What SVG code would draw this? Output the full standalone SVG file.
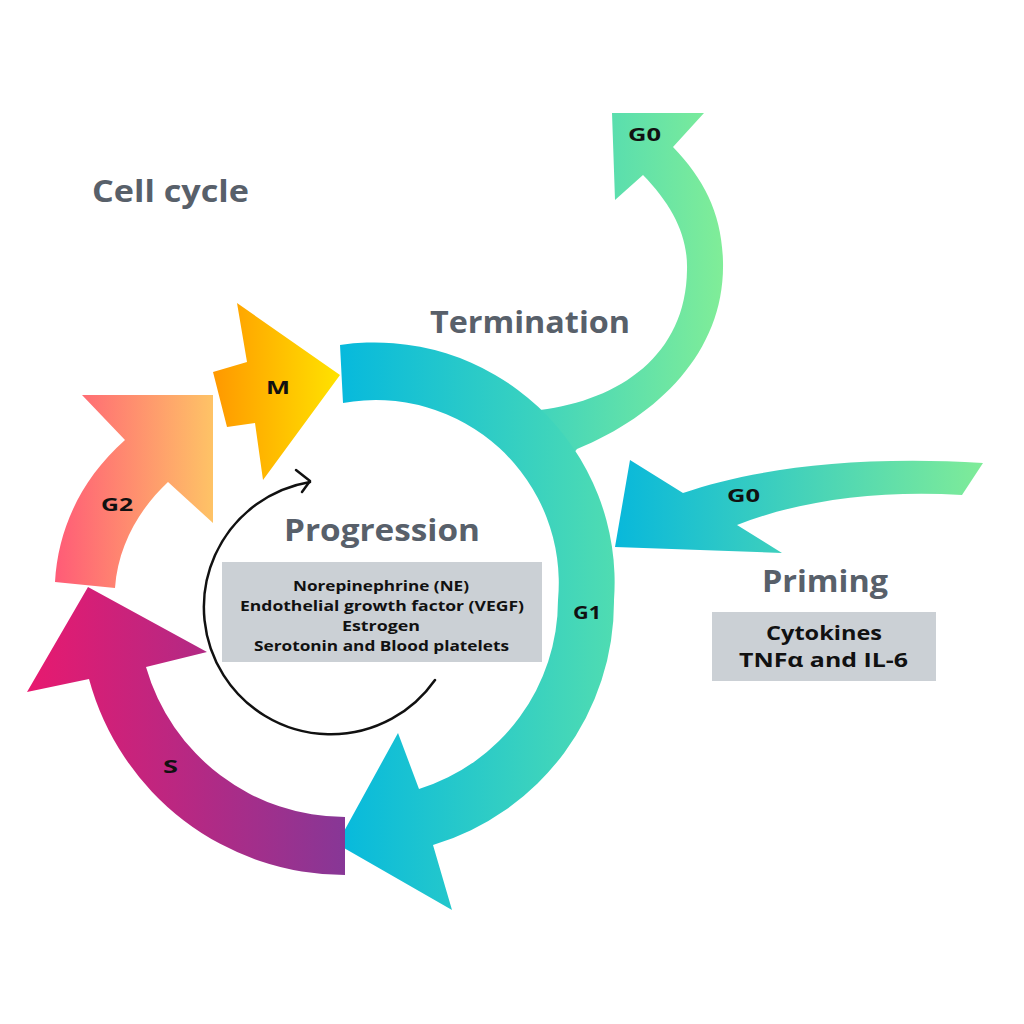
<svg xmlns="http://www.w3.org/2000/svg" width="1024" height="1024" viewBox="0 0 1024 1024">
<defs>
<linearGradient id="gG1" gradientUnits="userSpaceOnUse" x1="338" y1="0" x2="613" y2="0"><stop offset="0" stop-color="#06B9DD"/><stop offset="1" stop-color="#4FDCB2"/></linearGradient>
<linearGradient id="gG0t" gradientUnits="userSpaceOnUse" x1="530" y1="0" x2="723" y2="0"><stop offset="0" stop-color="#3DD3BE"/><stop offset="1" stop-color="#80ED98"/></linearGradient>
<linearGradient id="gG0r" gradientUnits="userSpaceOnUse" x1="615" y1="0" x2="985" y2="0"><stop offset="0" stop-color="#08B8DB"/><stop offset="1" stop-color="#80EC98"/></linearGradient>
<linearGradient id="gM" gradientUnits="userSpaceOnUse" x1="213" y1="0" x2="340" y2="0"><stop offset="0" stop-color="#FF9800"/><stop offset="1" stop-color="#FFE300"/></linearGradient>
<linearGradient id="gG2" gradientUnits="userSpaceOnUse" x1="55" y1="0" x2="213" y2="0"><stop offset="0" stop-color="#FF5B77"/><stop offset="1" stop-color="#FEC366"/></linearGradient>
<linearGradient id="gS" gradientUnits="userSpaceOnUse" x1="27" y1="0" x2="345" y2="0"><stop offset="0" stop-color="#E8196F"/><stop offset="1" stop-color="#873796"/></linearGradient>
<style>
.title{font-family:"Open Sans","Noto Sans","Liberation Sans",sans-serif;font-weight:700;fill:#58606A;font-size:31px;}
.lbl{font-family:"Open Sans","Noto Sans","Liberation Sans",sans-serif;font-weight:700;fill:#111;text-anchor:middle;}
.box{fill:#CBD0D5;}
.thin{fill:none;stroke:#111;stroke-width:2.5;stroke-linecap:round;stroke-linejoin:round;}
</style>
</defs>
<rect width="1024" height="1024" fill="#FFFFFF"/>
<text class="title" x="92" y="202" textLength="157" lengthAdjust="spacingAndGlyphs">Cell cycle</text>
<text class="title" x="430" y="333" textLength="200" lengthAdjust="spacingAndGlyphs">Termination</text>
<g id="node-G0-top">
<path fill="url(#gG0t)" d="M 560,470 L 577,449 C 660,415 725,350 723,262 C 722,215 705,180 673,147 L 704,113 L 612,113 L 615,200 L 643,175 C 672,205 688,235 687,270 C 686,355 620,400 540,410 L 530,425 Z"/>
<text class="lbl" x="644.5" y="141" font-size="18" textLength="33" lengthAdjust="spacingAndGlyphs">G0</text>
</g>
<g id="node-G1">
<path fill="url(#gG1)" d="M 340,345 A 240 240 0 0 1 614,600 A 254 254 0 0 1 433,845 L 452,910 L 337,844 L 398,733 L 419,789 A 198 198 0 0 0 558,600 A 183 183 0 0 0 343,403 Z"/>
<text class="lbl" x="587" y="619" font-size="18" textLength="28" lengthAdjust="spacingAndGlyphs">G1</text>
</g>
<g id="node-M">
<path fill="url(#gM)" d="M 237,303 L 340,375 L 263,480 L 255,423 L 227,427 L 213,372 L 247,362 Z"/>
<text class="lbl" x="278" y="394" font-size="18" textLength="24" lengthAdjust="spacingAndGlyphs">M</text>
</g>
<g id="node-G2">
<path fill="url(#gG2)" d="M 55,582 C 58,530 80,480 125,440 L 82,395 L 213,395 L 213,523 L 168,482 C 140,508 118,545 115,588 Z"/>
<text class="lbl" x="117" y="511" font-size="18" textLength="32" lengthAdjust="spacingAndGlyphs">G2</text>
</g>
<g id="node-S">
<path fill="url(#gS)" d="M 345,875 A 265 265 0 0 1 89,679 L 27,692 L 88,587 L 207,652 L 146,667 A 207 207 0 0 0 345,817 Z"/>
<text class="lbl" x="170.5" y="773" font-size="18" textLength="15" lengthAdjust="spacingAndGlyphs">S</text>
</g>
<g id="connectors">
<path class="thin" d="M 435,680 A 127 127 0 1 1 310,482"/>
<path class="thin" d="M 296,470 L 310,481 L 302,492"/>
</g>
<g id="node-progression">
<text class="title" x="284" y="541" textLength="196" lengthAdjust="spacingAndGlyphs">Progression</text>
<rect class="box" x="222" y="562" width="320" height="100"/>
<text class="lbl" x="381" y="591" font-size="15" textLength="176" lengthAdjust="spacingAndGlyphs">Norepinephrine (NE)</text>
<text class="lbl" x="382" y="611" font-size="15" textLength="284" lengthAdjust="spacingAndGlyphs">Endothelial growth factor (VEGF)</text>
<text class="lbl" x="381" y="631" font-size="15" textLength="78" lengthAdjust="spacingAndGlyphs">Estrogen</text>
<text class="lbl" x="381.5" y="651" font-size="15" textLength="255" lengthAdjust="spacingAndGlyphs">Serotonin and Blood platelets</text>
</g>
<g id="node-G0-right">
<path fill="url(#gG0r)" d="M 683,493 C 750,470 850,455 983,463 L 962,495 C 880,490 800,500 737,525 L 782,553 L 615,547 L 630,460 Z"/>
<text class="lbl" x="743.5" y="502" font-size="18" textLength="33" lengthAdjust="spacingAndGlyphs">G0</text>
</g>
<g id="node-priming">
<text class="title" x="762" y="592" textLength="126" lengthAdjust="spacingAndGlyphs">Priming</text>
<rect class="box" x="712" y="612" width="224" height="69"/>
<text class="lbl" x="824" y="640" font-size="19.5" textLength="116" lengthAdjust="spacingAndGlyphs">Cytokines</text>
<text class="lbl" x="823.5" y="667" font-size="19.5" textLength="169" lengthAdjust="spacingAndGlyphs">TNFα and IL-6</text>
</g>
</svg>
